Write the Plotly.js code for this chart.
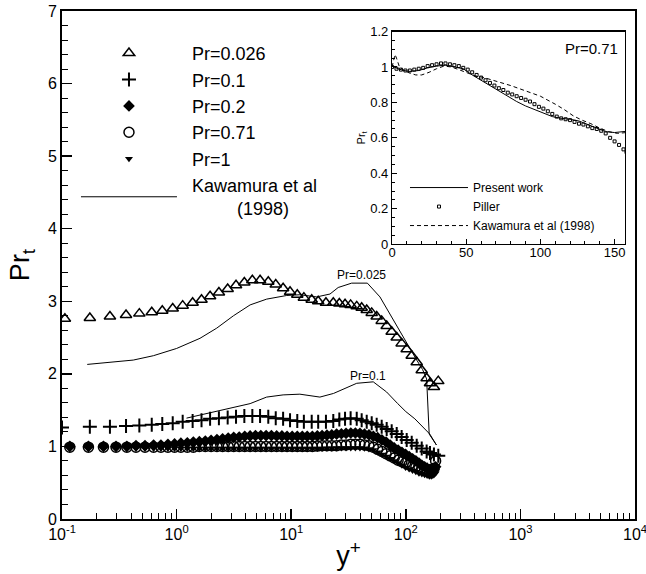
<!DOCTYPE html>
<html><head><meta charset="utf-8">
<script src="https://cdn.plot.ly/plotly-3.0.1.min.js"></script>
<style>html,body{margin:0;padding:0;background:#fff}#chart{width:646px;height:574px}</style>
</head><body><div id="chart"></div>
<script>
// ---------- main plot data ----------
const xPr026 = [0.106,0.175,0.262,0.362,0.473,0.607,0.75,0.925,1.13,1.38,1.65,1.96,2.34,2.79,3.3,3.9,4.58,5.35,6.31,7.33,8.5,9.77,11.3,12.9,15.1,17.2,20.1,23.3,26.3,29.5,33,37.3,41.2,45.6,50.4,55.7,61.6,68.1,75.3,83.3,92,101.8,112.6,124.5,137.7,152,162.6,176,192];
const yPr026 = [2.76,2.77,2.79,2.81,2.83,2.85,2.87,2.90,2.94,2.98,3.02,3.07,3.12,3.17,3.22,3.26,3.29,3.29,3.27,3.23,3.18,3.13,3.09,3.05,3.02,3.00,2.98,2.98,2.97,2.96,2.95,2.93,2.91,2.88,2.84,2.79,2.73,2.66,2.58,2.50,2.42,2.34,2.25,2.16,2.05,1.94,1.87,1.82,1.90];
const xPr01 = [0.1,0.175,0.262,0.362,0.473,0.607,0.75,0.925,1.13,1.38,1.65,1.96,2.34,2.79,3.3,3.9,4.58,5.35,6.31,7.33,8.5,9.77,11.3,12.9,15.1,17.2,20.1,23.3,26.3,29.5,33,37.3,41.2,45.6,50.4,55.7,61.6,68.1,75.3,83.3,92,101.8,112.6,124.5,137.7,152,162.6,176,192];
const yPr01 = [1.26,1.27,1.27,1.28,1.29,1.30,1.31,1.32,1.34,1.35,1.36,1.38,1.39,1.40,1.41,1.42,1.42,1.42,1.41,1.39,1.38,1.36,1.35,1.34,1.34,1.34,1.34,1.35,1.37,1.38,1.39,1.38,1.36,1.34,1.32,1.30,1.27,1.24,1.21,1.17,1.13,1.09,1.05,1.01,0.97,0.93,0.91,0.89,0.87];
const xFine = [0.117,0.17,0.23,0.296,0.368,0.442,0.53,0.63,0.73,0.84,0.96,1.09,1.24,1.4,1.58,1.78,2.0,2.25,2.52,2.82,3.15,3.52,3.93,4.38,4.88,5.43,6.04,6.72,7.47,8.3,9.2,10.2,11.3,12.5,13.8,15.3,16.9,18.6,20.5,22.6,24.9,27.4,30.1,33.1,36.3,39.8,43.6,47.7,52.1,56.8,61.9,67.3,73.1,79.2,85.7,92.5,99.6,107,114.6,122.4,130.3,138.2,146,153.5,160.5,166.8,172.2,176.5,182];
const yPr02 = [1.00,1.00,1.00,1.00,1.00,1.01,1.01,1.02,1.02,1.03,1.035,1.045,1.05,1.06,1.065,1.075,1.085,1.095,1.105,1.115,1.125,1.13,1.14,1.145,1.15,1.15,1.15,1.15,1.145,1.145,1.14,1.14,1.14,1.14,1.14,1.14,1.145,1.15,1.155,1.16,1.17,1.175,1.18,1.185,1.185,1.18,1.17,1.16,1.14,1.12,1.09,1.06,1.02,0.98,0.95,0.92,0.89,0.86,0.83,0.80,0.77,0.74,0.72,0.70,0.68,0.67,0.67,0.68,0.72];
const yPr071 = [0.99,0.99,0.99,0.99,0.99,0.99,0.99,0.99,0.99,0.99,0.99,0.99,0.99,0.99,1.00,1.00,1.00,1.00,1.00,1.00,1.00,1.00,1.00,1.00,1.00,1.00,1.00,1.00,1.00,1.00,1.00,1.00,1.00,1.00,1.00,1.00,1.005,1.01,1.01,1.01,1.01,1.02,1.02,1.03,1.03,1.03,1.02,1.01,0.99,0.96,0.93,0.90,0.87,0.84,0.81,0.79,0.77,0.75,0.73,0.72,0.71,0.70,0.69,0.68,0.67,0.67,0.68,0.70,0.80];
const yPr1 = [0.97,0.97,0.97,0.97,0.97,0.97,0.97,0.97,0.97,0.97,0.97,0.97,0.97,0.97,0.97,0.97,0.97,0.97,0.97,0.97,0.97,0.97,0.97,0.97,0.97,0.97,0.97,0.97,0.97,0.97,0.97,0.97,0.97,0.97,0.97,0.97,0.97,0.97,0.975,0.975,0.98,0.98,0.98,0.98,0.98,0.98,0.975,0.965,0.95,0.92,0.89,0.86,0.83,0.80,0.77,0.74,0.71,0.69,0.67,0.65,0.63,0.62,0.61,0.60,0.59,0.59,0.60,0.61,0.63];
const xKaw025 = [0.166,0.262,0.419,0.627,1.0,1.6,2.24,3.13,4.38,6.11,9.14,11.9,16.7,21.8,25.7,33.7,46.2,59.5,77.8,98.4,124.5,140,152,160,185];
const yKaw025 = [2.13,2.16,2.19,2.25,2.35,2.49,2.63,2.80,2.95,3.03,3.08,3.09,3.06,3.10,3.19,3.25,3.25,3.06,2.74,2.47,2.19,2.06,1.93,1.17,1.02];
const xKaw01 = [1.22,2.24,4.38,6.1,8.5,11.9,17.8,23.4,37.3,52,68,85,100,120,162,185];
const yKaw01 = [1.39,1.48,1.59,1.68,1.71,1.72,1.68,1.73,1.87,1.89,1.75,1.59,1.48,1.38,1.17,1.02];
const xTickVals = [0.1,1,10,100,1000,10000];
const xTickText = ['10<sup>-1</sup>','10<sup>0</sup>','10<sup>1</sup>','10<sup>2</sup>','10<sup>3</sup>','10<sup>4</sup>'];
const mainNames = ['Pr=0.026','Pr=0.1','Pr=0.2','Pr=0.71','Pr=1','Kawamura et al'];

// ---------- inset data (Pr=0.71) ----------
const xPresent = [0,4,8,12,18,24,30,36,42,48,54,60,66,72,78,84,90,96,102,108,114,120,126,132,138,144,150,156,158];
const yPresent = [1.005,0.99,0.98,0.975,0.98,0.995,1.005,1.01,1.0,0.99,0.955,0.925,0.895,0.865,0.835,0.805,0.78,0.76,0.74,0.72,0.71,0.705,0.695,0.675,0.655,0.635,0.63,0.635,0.637];
const xPiller = [0,3,6,9,12,15,18,21,24,27,30,33,36,39,42,45,48,51,54,57,60,63,66,69,72,75,78,81,84,87,90,93,96,99,102,105,108,111,114,117,120,123,126,129,132,135,138,141,144,147,150,153,156,158];
const yPiller = [1.0,0.99,0.985,0.98,0.98,0.985,0.99,0.995,1.005,1.01,1.015,1.02,1.02,1.015,1.01,1.005,0.995,0.985,0.97,0.955,0.94,0.925,0.91,0.895,0.88,0.87,0.855,0.845,0.835,0.825,0.815,0.805,0.79,0.775,0.765,0.75,0.735,0.72,0.71,0.705,0.70,0.69,0.68,0.675,0.665,0.655,0.65,0.64,0.625,0.60,0.58,0.56,0.535,0.52];
const xKawInset = [0,1,2,3,5,8,12,16,20,25,30,35,40,45,50,56,62,70,80,90,100,110,116,122,128,134,140,146,152,158];
const yKawInset = [1.0,1.04,1.07,1.05,1.0,0.98,0.965,0.955,0.955,0.97,0.99,1.005,1.0,0.985,0.97,0.95,0.94,0.92,0.895,0.865,0.835,0.79,0.76,0.725,0.70,0.68,0.655,0.635,0.625,0.63];

const FONT = 'Liberation Sans, Arial, Helvetica, sans-serif';
const minorLog = [];
for (let e = -1; e <= 3; e++) for (let d = 2; d <= 9; d++) minorLog.push(d * Math.pow(10, e));
const pad = '\u00a0\u00a0';

const traces = [
  {x:xPr026, y:yPr026, mode:'markers', name:pad + mainNames[0], legend:'legend',
   marker:{symbol:'triangle-up-open', size:10, color:'black', line:{width:1.5, color:'black'}}},
  {x:xPr01, y:yPr01, mode:'markers', name:pad + mainNames[1], legend:'legend',
   marker:{symbol:'cross-thin-open', size:10, color:'black', line:{width:2, color:'black'}}},
  {x:xFine, y:yPr02, mode:'markers', name:pad + mainNames[2], legend:'legend',
   marker:{symbol:'diamond', size:9, color:'black', line:{width:0}}},
  {x:xFine, y:yPr071, mode:'markers', name:pad + mainNames[3], legend:'legend',
   marker:{symbol:'circle-open', size:10, color:'black', line:{width:1.5, color:'black'}}},
  {x:xFine, y:yPr1, mode:'markers', name:pad + mainNames[4], legend:'legend',
   marker:{symbol:'triangle-down', size:7, color:'black', line:{width:0}}},
  {x:xKaw025, y:yKaw025, mode:'lines', name:pad + mainNames[5] + '<br>' + '\u00a0'.repeat(11) + '(1998)', legend:'legend',
   line:{color:'black', width:1}},
  {x:xKaw01, y:yKaw01, mode:'lines', showlegend:false, line:{color:'black', width:1}},
  {x:xPresent, y:yPresent, xaxis:'x2', yaxis:'y2', mode:'lines', name:'Present work', legend:'legend2',
   line:{color:'black', width:1}},
  {x:xPiller, y:yPiller, xaxis:'x2', yaxis:'y2', mode:'markers', name:'Piller', legend:'legend2',
   marker:{symbol:'square-open', size:3, color:'black', line:{width:1, color:'black'}}},
  {x:xKawInset, y:yKawInset, xaxis:'x2', yaxis:'y2', mode:'lines', name:'Kawamura et al (1998)', legend:'legend2',
   line:{color:'black', width:1, dash:'4px,3px'}}
];

const layout = {
  width:646, height:574,
  margin:{l:62, r:11, t:11, b:55},
  paper_bgcolor:'white', plot_bgcolor:'white',
  font:{family:FONT, color:'black'},
  xaxis:{type:'log', range:[-1,4], tickmode:'array', tickvals:xTickVals, ticktext:xTickText,
    ticks:'inside', ticklen:10, tickwidth:1.5, tickcolor:'black', ticklabeloverflow:'allow',
    minor:{tickmode:'array', tickvals:minorLog, ticks:'inside', ticklen:6, tickwidth:1, tickcolor:'black', showgrid:false},
    showline:true, linewidth:2, linecolor:'black', mirror:true, showgrid:false, zeroline:false,
    tickfont:{size:16, family:FONT},
    title:{text:'y<sup>+</sup>', font:{size:27, family:FONT}, standoff:4}},
  yaxis:{range:[0,7], dtick:1, ticks:'inside', ticklen:10, tickwidth:1.5, tickcolor:'black',
    minor:{dtick:0.2, ticks:'inside', ticklen:6, tickwidth:1, tickcolor:'black', showgrid:false},
    showline:true, linewidth:2, linecolor:'black', mirror:true, showgrid:false, zeroline:false,
    tickfont:{size:16, family:FONT},
    title:{text:'Pr<sub>t</sub>', font:{size:27, family:FONT}, standoff:10}},
  xaxis2:{domain:[0.576,0.9825], anchor:'y2', range:[0,157], dtick:50,
    ticks:'inside', ticklen:5, tickwidth:1, tickcolor:'black', ticklabelstandoff:-4,
    minor:{dtick:10, ticks:'inside', ticklen:3, tickwidth:1, tickcolor:'black', showgrid:false},
    showline:true, linewidth:1.2, linecolor:'black', mirror:true, showgrid:false, zeroline:false,
    tickfont:{size:13, family:FONT}},
  yaxis2:{domain:[0.541,0.9596], anchor:'x2', range:[0,1.2], dtick:0.2,
    ticks:'inside', ticklen:5, tickwidth:1, tickcolor:'black',
    minor:{dtick:0.05, ticks:'inside', ticklen:3, tickwidth:1, tickcolor:'black', showgrid:false},
    showline:true, linewidth:1.2, linecolor:'black', mirror:true, showgrid:false, zeroline:false,
    tickfont:{size:13, family:FONT},
    title:{text:'Pr<sub>t</sub>', font:{size:11, family:FONT}, standoff:2}},
  legend:{x:0.0244, y:0.953, xanchor:'left', yanchor:'top', bgcolor:'rgba(0,0,0,0)',
    font:{size:18, family:FONT}, itemwidth:96, tracegroupgap:0},
  legend2:{x:0.5986, y:0.681, xanchor:'left', yanchor:'top', bgcolor:'rgba(0,0,0,0)',
    font:{size:12, family:FONT}, itemwidth:58, tracegroupgap:0},
  annotations:[
    {xref:'x2 domain', yref:'y2 domain', x:0.98, y:0.97, xanchor:'right', yanchor:'top',
     text:'Pr=0.71', showarrow:false, font:{size:15, family:FONT}},
    {xref:'x2', yref:'y2', x:70, y:-0.025, xanchor:'center', yanchor:'middle',
     text:'y<sup>+</sup>', showarrow:false, font:{size:13, family:FONT}},
    {xref:'x', yref:'y', x:1.615, y:3.36, text:'Pr=0.025', showarrow:false, font:{size:12, family:FONT}},
    {xref:'x', yref:'y', x:1.667, y:1.97, text:'Pr=0.1', showarrow:false, font:{size:12, family:FONT}}
  ],
  showlegend:true
};

Plotly.newPlot('chart', traces, layout, {staticPlot:true, displayModeBar:false});
</script></body></html>
